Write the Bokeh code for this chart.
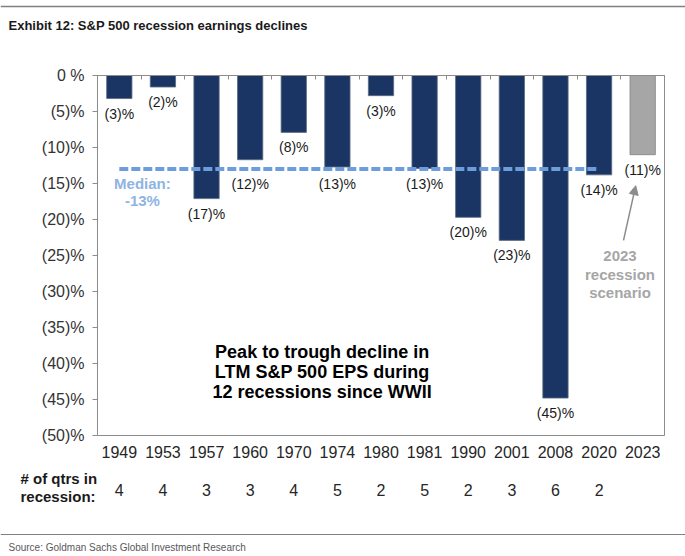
from bokeh.plotting import figure
from bokeh.models import (ColumnDataSource, Range1d, FixedTicker, LinearAxis,
                          Label, Span, Arrow, NormalHead)
from bokeh.layouts import column, row
from bokeh.core.properties import value
from bokeh.embed import file_html
from bokeh.resources import INLINE

# ---------------- data ----------------
years = ["1949", "1953", "1957", "1960", "1970", "1974", "1980", "1981",
         "1990", "2001", "2008", "2020", "2023"]
declines = [-3.2, -1.6, -17.1, -11.7, -7.9, -12.7, -2.8, -12.9,
            -19.7, -22.9, -44.8, -13.8, -11.0]
decline_labels = ["(3)%", "(2)%", "(17)%", "(12)%", "(8)%", "(13)%", "(3)%",
                  "(13)%", "(20)%", "(23)%", "(45)%", "(14)%", "(11)%"]
qtrs_in_recession = ["4", "4", "3", "3", "4", "5", "2", "5", "2", "3", "6", "2", ""]
median_decline = -13
y_ticks = [0, -5, -10, -15, -20, -25, -30, -35, -40, -45, -50]
y_tick_labels = ["0 %", "(5)%", "(10)%", "(15)%", "(20)%", "(25)%", "(30)%",
                 "(35)%", "(40)%", "(45)%", "(50)%"]
scenario_year = "2023"

NAVY = "#1a3563"
GREY_BAR = "#a6a6a6"
FRAME = "#8c8c8c"
FONT = "Liberation Sans"
LABEL_CLEARANCE = 3   # value labels this close above the median line go below it

n = len(years)
centers = [i + 0.5 for i in range(n)]      # category slot centres
edges = list(range(n + 1))                  # category slot boundaries
colors = [GREY_BAR if y == scenario_year else NAVY for y in years]
outlines = ["#7f7f7f" if y == scenario_year else "#5d6b80" for y in years]
label_anchor = [median_decline if (y != scenario_year and
                                   median_decline < v < median_decline + LABEL_CLEARANCE)
                else v for y, v in zip(years, declines)]
src = ColumnDataSource(dict(x=centers, year=years, val=declines, anchor=label_anchor,
                            lab=decline_labels, color=colors, outline=outlines))

W = 685
LEFT, RIGHT = 97, 21
cat_w = (W - LEFT - RIGHT) / n

# ---------------- header ----------------
head = figure(width=W, height=45, x_range=Range1d(0, W), y_range=Range1d(0, 45),
              x_axis_type=None, y_axis_type=None, toolbar_location=None,
              output_backend="svg", min_border=0, outline_line_color=None)
head.add_layout(Span(location=39, dimension="width", line_color="#808080", line_width=1.5))
head.add_layout(Label(x=8, y=20, text="Exhibit 12: S&P 500 recession earnings declines",
                      text_font=FONT, text_font_size="13px", text_font_style="bold",
                      text_baseline="middle", text_color="#1a1a1a"))

# ---------------- main chart ----------------
p = figure(x_range=Range1d(0, n), y_range=Range1d(-50, 0), width=W, height=423,
           toolbar_location=None, output_backend="svg",
           min_border_left=LEFT, min_border_right=RIGHT, min_border_top=30, min_border_bottom=33)
p.xgrid.visible = False
p.ygrid.visible = False
p.outline_line_color = FRAME

p.vbar(x="x", top=0, bottom="val", width=0.58, fill_color="color",
       line_color="outline", line_width=0.8, source=src)

p.text(x="x", y="anchor", text="lab", source=src, text_align="center",
       text_baseline="top", y_offset=7, text_font=value(FONT),
       text_font_size="14px", text_color="#1a1a1a")

# median line from first to last historical recession
p.line(x=[centers[0], centers[-2]], y=[median_decline, median_decline],
       line_color="#6d9edb", line_width=4, line_dash="9 3")

# left axis
ya = p.yaxis[0]
ya.ticker = FixedTicker(ticks=y_ticks)
ya.major_label_overrides = dict(zip(y_ticks, y_tick_labels))
ya.major_tick_out = 5
ya.major_tick_in = 0
ya.minor_tick_line_color = None
ya.axis_line_color = FRAME
ya.major_tick_line_color = FRAME
ya.major_label_text_font = FONT
ya.major_label_text_font_size = "16px"
ya.major_label_text_color = "#333333"
ya.major_label_standoff = 8

# bottom axis: years
xa = p.below[0]
xa.ticker = FixedTicker(ticks=centers)
xa.major_label_overrides = dict(zip(centers, years))
xa.axis_line_color = None
xa.major_tick_line_color = None
xa.minor_tick_line_color = None
xa.major_label_text_font = FONT
xa.major_label_text_font_size = "16px"
xa.major_label_text_color = "#262626"
xa.major_label_standoff = 4

# top axis at 0 with ticks at category boundaries
ta = LinearAxis(ticker=FixedTicker(ticks=edges),
                major_label_overrides={e: "" for e in edges},
                major_tick_in=4, major_tick_out=0,
                minor_tick_line_color=None, axis_line_color=FRAME,
                major_tick_line_color=FRAME)
p.add_layout(ta, "above")

# annotations
def lab(fig, x, y, text, size, color, bold=True, align="center"):
    fig.add_layout(Label(x=x, y=y, text=text, text_font=FONT, text_font_size=size,
                         text_font_style="bold" if bold else "normal",
                         text_color=color, text_align=align, text_baseline="middle"))

lab(p, 1.03, median_decline - 2.0, "Median:", "15px", "#8eb4e3")
lab(p, 1.03, median_decline - 4.4, "-13%", "15px", "#8eb4e3")

lab(p, 5.15, -38.4, "Peak to trough decline in", "18px", "#000000")
lab(p, 5.15, -41.2, "LTM S&P 500 EPS during", "18px", "#000000")
lab(p, 5.15, -44.0, "12 recessions since WWII", "18px", "#000000")

lab(p, 11.98, -25.1, "2023", "15px", "#a6a6a6")
lab(p, 11.98, -27.6, "recession", "15px", "#a6a6a6")
lab(p, 11.98, -30.1, "scenario", "15px", "#a6a6a6")

p.add_layout(Arrow(end=NormalHead(size=9, fill_color=FRAME, line_color=FRAME),
                   x_start=12.06, y_start=-22.9, x_end=12.34, y_end=-15.3,
                   line_color=FRAME, line_width=1.5))

# ---------------- quarters-in-recession row ----------------
q = figure(width=W, height=52, x_range=Range1d(-LEFT / cat_w, n + RIGHT / cat_w),
           y_range=Range1d(-52, 0), x_axis_type=None, y_axis_type=None,
           toolbar_location=None, output_backend="svg", min_border=0,
           outline_line_color=None)
q.text(x=centers, y=[-21] * n, text=qtrs_in_recession, text_align="center",
       text_baseline="middle", text_font=value(FONT), text_font_size="16px",
       text_color="#262626")
lab(q, -77 / cat_w, -10, "# of qtrs in", "15px", "#1a1a1a", align="left")
lab(q, -77 / cat_w, -28, "recession:", "15px", "#1a1a1a", align="left")

# ---------------- footer ----------------
foot = figure(width=W, height=36, x_range=Range1d(0, W), y_range=Range1d(0, 36),
              x_axis_type=None, y_axis_type=None, toolbar_location=None,
              output_backend="svg", min_border=0, outline_line_color=None)
foot.add_layout(Span(location=22, dimension="width", line_color="#808080", line_width=1))
foot.add_layout(Label(x=8, y=9, text="Source: Goldman Sachs Global Investment Research",
                      text_font=FONT, text_font_size="10px",
                      text_baseline="middle", text_color="#595959"))

layout = column(row(head), row(p), row(q), row(foot), spacing=0)
open("out.html", "w").write(file_html(layout, INLINE))
